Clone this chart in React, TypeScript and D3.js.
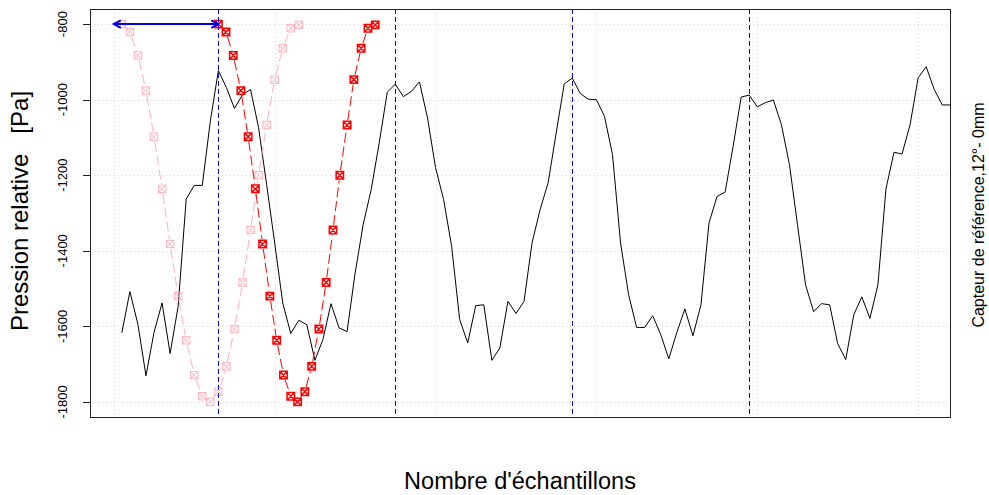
import React from "react";
import * as d3 from "d3";

const blackValues = [
  -1617, -1508, -1595, -1731, -1616, -1538, -1672, -1547, -1263, -1227,
  -1227, -1057, -923, -968, -1023, -987, -973, -1074, -1225, -1379,
  -1538, -1619, -1584, -1596, -1690, -1635, -1540, -1604, -1614, -1459,
  -1331, -1238, -1114, -980, -959, -992, -978, -953, -1048, -1180,
  -1264, -1388, -1582, -1644, -1545, -1543, -1690, -1657, -1534, -1566,
  -1534, -1379, -1291, -1220, -1088, -958, -943, -984, -999, -1000,
  -1044, -1145, -1379, -1516, -1603, -1603, -1572, -1622, -1686, -1616,
  -1554, -1625, -1543, -1326, -1256, -1245, -1123, -993, -988, -1019,
  -1008, -1001, -1066, -1172, -1331, -1490, -1561, -1540, -1543, -1646,
  -1688, -1569, -1522, -1579, -1490, -1236, -1139, -1144, -1066, -942,
  -913, -973, -1014, -1014,
];

const refValues = [
  -800, -821, -883, -976, -1098, -1236, -1382, -1520, -1637, -1729, -1785,
  -1800, -1773, -1706, -1607, -1484, -1345, -1200, -1067, -947, -864, -811,
  -802,
];
const pinkX = [
  1, 2, 3, 4, 5, 6, 7, 8, 9, 10, 11, 12, 13, 14, 15, 16, 17, 18, 19, 20, 21,
  22, 23,
];
const redX = [
  13.0, 13.95, 14.85, 15.8, 16.7, 17.6, 18.5, 19.4, 20.25, 21.1, 22.0, 22.85,
  23.75, 24.6, 25.5, 26.4, 27.25, 28.1, 29.0, 29.85, 30.75, 31.6, 32.5,
];

const blueLines = [13, 35, 57, 79];
const arrowFrom = 0;
const arrowTo = 13;
const arrowY = -800;

const xGrid = [0, 20, 40, 60, 80, 100];
const yTicks = [-1800, -1600, -1400, -1200, -1000, -800];

const xLabel = "Nombre d'échantillons";
const yLabel = "Pression relative   [Pa]";
const rightLabel = "Capteur de référence,12°- 0mm";

const W = 989;
const H = 495;
const L = 90;
const R = 950;
const T = 9;
const B = 417;
const FONT = "'Liberation Sans', Arial, Helvetica, sans-serif";

function MarkerSeries({ xs, ys, color, x, y, sw }: any) {
  const pts = xs.map((v: number, i: number) => [x(v), y(ys[i])]);
  const gap = 5;
  const segs: any[] = [];
  for (let i = 0; i < pts.length - 1; i++) {
    const [x1, y1] = pts[i];
    const [x2, y2] = pts[i + 1];
    const len = Math.hypot(x2 - x1, y2 - y1);
    if (len <= 2 * gap + 1) continue;
    const ux = (x2 - x1) / len;
    const uy = (y2 - y1) / len;
    segs.push(
      <line
        key={"s" + i}
        x1={x1 + ux * gap}
        y1={y1 + uy * gap}
        x2={x2 - ux * gap}
        y2={y2 - uy * gap}
        stroke={color}
        strokeWidth={1}
        strokeDasharray="10,4"
      />
    );
  }
  const h = 3.7;
  return (
    <g>
      {segs}
      {pts.map(([px, py]: number[], i: number) => (
        <path
          key={"m" + i}
          d={`M${px - h},${py - h}H${px + h}V${py + h}H${px - h}Z M${px - h},${py - h}L${px + h},${py + h} M${px + h},${py - h}L${px - h},${py + h}`}
          fill="none"
          stroke={color}
          strokeWidth={sw}
        />
      ))}
    </g>
  );
}

export default function App() {
  const x = d3.scaleLinear().domain([-2.96, 103.96]).range([L, R]);
  const y = d3.scaleLinear().domain([-1840, -760]).range([B, T]);
  const line = d3
    .line<number>()
    .x((_, i) => x(i + 1))
    .y((d) => y(d));

  const ax1 = x(arrowFrom);
  const ax2 = x(arrowTo);
  const ay = y(arrowY);
  const hl = 8;
  const ang = (28 * Math.PI) / 180;
  const hdx = hl * Math.cos(ang);
  const hdy = hl * Math.sin(ang);

  return (
    <svg
      width={W}
      height={H}
      style={{ position: "absolute", left: 0, top: 0, background: "#fff" }}
      fontFamily={FONT}
    >
      <defs>
        <clipPath id="plotclip">
          <rect x={L} y={T} width={R - L} height={B - T} />
        </clipPath>
      </defs>
      <rect x={0} y={0} width={W} height={H} fill="#fff" />
      <g stroke="#d3d3d3" strokeWidth={1} strokeDasharray="1,3">
        {xGrid.map((g) => (
          <line key={"gx" + g} x1={Math.round(x(g)) + 0.5} x2={Math.round(x(g)) + 0.5} y1={T} y2={B} />
        ))}
        {yTicks.map((g) => (
          <line key={"gy" + g} x1={L} x2={R} y1={Math.round(y(g)) + 0.5} y2={Math.round(y(g)) + 0.5} />
        ))}
      </g>
      <g clipPath="url(#plotclip)">
        <path d={line(blackValues) || ""} fill="none" stroke="#000" strokeWidth={1} />
        <MarkerSeries xs={pinkX} ys={refValues} color="#ffb0bc" x={x} y={y} sw={1} />
        <MarkerSeries xs={redX} ys={refValues} color="#ff0000" x={x} y={y} sw={1.5} />
        {blueLines.map((b) => (
          <line
            key={"b" + b}
            x1={Math.round(x(b)) + 0.5}
            x2={Math.round(x(b)) + 0.5}
            y1={T}
            y2={B}
            stroke="#0000ff"
            strokeWidth={1}
            strokeDasharray="5,3"
          />
        ))}
        <g stroke="#0000ee" strokeWidth={2} fill="none">
          <line x1={ax1} x2={ax2} y1={ay} y2={ay} />
          <polyline points={`${ax1 + hdx},${ay - hdy} ${ax1},${ay} ${ax1 + hdx},${ay + hdy}`} />
          <polyline points={`${ax2 - hdx},${ay - hdy} ${ax2},${ay} ${ax2 - hdx},${ay + hdy}`} />
        </g>
      </g>
      <rect x={L + 0.5} y={T + 0.5} width={R - L} height={B - T} fill="none" stroke="#222" strokeWidth={1} />
      <g>
        {yTicks.map((t) => (
          <g key={"t" + t}>
            <line x1={L - 7} x2={L} y1={Math.round(y(t)) + 0.5} y2={Math.round(y(t)) + 0.5} stroke="#222" />
            <text
              transform={`translate(67,${y(t)}) rotate(-90)`}
              textAnchor="middle"
              fontSize={13}
              fill="#000"
            >
              {t}
            </text>
          </g>
        ))}
      </g>
      <text
        transform={`translate(28,211) rotate(-90)`}
        textAnchor="middle"
        fontSize={24}
        fill="#000"
        style={{ whiteSpace: "pre" }}
      >
        {yLabel}
      </text>
      <text x={520} y={489} textAnchor="middle" fontSize={23.5} fill="#000">
        {xLabel}
      </text>
      <text transform={`translate(984,215) rotate(-90)`} textAnchor="middle" fontSize={16} fill="#000">
        {rightLabel}
      </text>
    </svg>
  );
}
